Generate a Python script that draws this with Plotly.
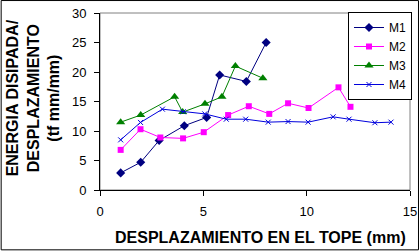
import plotly.graph_objects as go

# ---- data ----
m1_x = [1.0, 1.97, 2.86, 4.08, 5.16, 5.79, 7.08, 8.04]
m1_y = [2.9, 4.7, 8.4, 10.9, 12.3, 19.5, 18.4, 25.0]

m2_x = [1.0, 1.96, 2.92, 4.02, 5.02, 6.2, 7.2, 8.19, 9.1, 10.09, 11.54, 12.12]
m2_y = [6.8, 10.3, 8.9, 8.75, 9.8, 12.7, 14.2, 12.9, 14.7, 13.9, 17.4, 14.1]

m3_x = [1.0, 1.97, 3.61, 4.0, 5.08, 5.9, 6.55, 7.88]
m3_y = [11.5, 12.7, 15.8, 13.2, 14.6, 15.8, 21.0, 18.95]

m4_x = [1.0, 1.96, 3.02, 4.03, 5.07, 6.11, 7.05, 8.14, 9.1, 10.07, 11.28, 12.05, 13.3, 14.08]
m4_y = [8.5, 11.45, 13.7, 13.26, 12.9, 12.0, 12.0, 11.5, 11.6, 11.5, 12.4, 12.0, 11.4, 11.5]

series_names = ["M1", "M2", "M3", "M4"]
x_ticks = [0, 5, 10, 15]
y_ticks = [0, 5, 10, 15, 20, 25, 30]

x_title = "DESPLAZAMIENTO EN EL TOPE (mm)"
y_title = "ENERGIA DISIPADA/<br>DESPLAZAMIENTO<br>(tf mm/mm)"

FONT = "Liberation Sans, Arial, sans-serif"

fig = go.Figure()
fig.add_trace(go.Scatter(x=m1_x, y=m1_y, name=series_names[0], mode="lines+markers",
                         line=dict(color="#000080", width=1),
                         marker=dict(symbol="diamond", size=7, color="#000080")))
fig.add_trace(go.Scatter(x=m2_x, y=m2_y, name=series_names[1], mode="lines+markers",
                         line=dict(color="#FF00FF", width=1),
                         marker=dict(symbol="square", size=6, color="#FF00FF")))
fig.add_trace(go.Scatter(x=m3_x, y=m3_y, name=series_names[2], mode="lines+markers",
                         line=dict(color="#008000", width=1),
                         marker=dict(symbol="triangle-up", size=8, color="#008000")))
fig.add_trace(go.Scatter(x=m4_x, y=m4_y, name=series_names[3], mode="lines+markers",
                         line=dict(color="#0000DD", width=1),
                         marker=dict(symbol="x-thin-open", size=5, color="#0000DD",
                                     line=dict(color="#0000DD", width=1))))

W, H = 420, 252
L, R, T, B = 99.5, 10, 13, 61.5
pw, ph = W - L - R, H - T - B

def px(x):
    return (x - L) / pw

def py(y):
    return (H - B - y) / ph

fig.update_layout(
    width=W, height=H,
    margin=dict(l=L, r=R, t=T, b=B, pad=0, autoexpand=False),
    paper_bgcolor="white", plot_bgcolor="white",
    font=dict(family=FONT, size=13, color="black"),
    showlegend=True,
    legend=dict(x=px(412), y=py(12), xanchor="right", yanchor="top",
                bgcolor="white", bordercolor="black", borderwidth=1,
                font=dict(family=FONT, size=12, color="black"),
                itemwidth=30, tracegroupgap=0),
    xaxis=dict(range=[0, 15], tickvals=x_ticks, ticks="outside", ticklen=5,
               tickcolor="black", showline=True, linecolor="black", linewidth=1,
               showgrid=False, zeroline=False, tickfont=dict(size=13),
               ticklabelstandoff=4),
    yaxis=dict(range=[0, 30], tickvals=y_ticks, ticks="outside", ticklen=5,
               tickcolor="black", showline=True, linecolor="black", linewidth=1,
               showgrid=False, zeroline=False, tickfont=dict(size=13),
               ticklabelstandoff=5),
    shapes=[
        dict(type="rect", xref="paper", yref="paper", x0=0, y0=0, x1=1, y1=1,
             line=dict(color="#808080", width=1), layer="below"),
        dict(type="rect", xref="paper", yref="paper",
             x0=px(0.5), x1=px(418.5), y0=py(250.5), y1=py(0.5),
             line=dict(color="black", width=1), layer="above"),
    ],
    annotations=[
        dict(text="<b>" + x_title + "</b>", xref="paper", yref="paper",
             x=px(260), y=py(238), xanchor="center", yanchor="middle",
             showarrow=False, font=dict(family=FONT, size=16, color="black")),
        dict(text="<b>" + y_title + "</b>", xref="paper", yref="paper",
             x=px(33), y=py(98), xanchor="center", yanchor="middle",
             textangle=-90, showarrow=False,
             font=dict(family=FONT, size=16, color="black")),
    ],
)

fig.write_html("out.html", config={"displayModeBar": False},
               post_script="document.body.style.margin='0';document.body.style.overflow='hidden';")
